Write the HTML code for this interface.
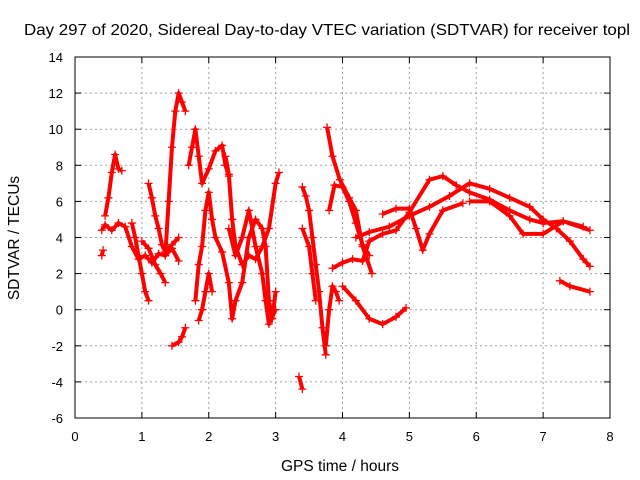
<!DOCTYPE html>
<html><head><meta charset="utf-8"><style>
body{margin:0;background:#fff}
svg{display:block;font-family:"Liberation Sans",sans-serif}
</style></head><body>
<svg id="c" width="640" height="480">
<text x="24" y="35" font-size="16" textLength="606" lengthAdjust="spacingAndGlyphs">Day 297 of 2020, Sidereal Day-to-day VTEC variation (SDTVAR) for receiver topl</text>
<text x="340" y="471" font-size="15.5" text-anchor="middle">GPS time / hours</text>
<text transform="translate(19,238) rotate(-90)" font-size="15.5" text-anchor="middle">SDTVAR / TECUs</text>
<g id="grid"></g><g id="marks"></g>
<rect x="75" y="57" width="535" height="361" fill="none" stroke="#000" stroke-width="1"/>
</svg>
<script>
const xTicks=[0,1,2,3,4,5,6,7,8];
const yTicks=[-6,-4,-2,0,2,4,6,8,10,12,14];
const tracks=[
[[0.4,4.4],[0.45,4.7],[0.55,4.4],[0.65,4.8],[0.75,4.6],[0.85,3.5],[0.95,2.8],[1.05,3.0],[1.15,2.6],[1.25,3.1],[1.35,3.0],[1.45,3.4],[1.55,2.7]],
[[0.45,5.2],[0.5,6.2],[0.55,7.6],[0.6,8.6],[0.65,7.8],[0.7,7.7]],
[[0.4,3.0],[0.42,3.3]],
[[0.85,4.8],[0.9,4.0],[0.95,3.0],[1.0,2.0],[1.05,1.0],[1.1,0.5]],
[[1.0,3.8],[1.1,3.4],[1.2,2.5],[1.28,2.0],[1.35,1.5]],
[[1.1,7.0],[1.15,6.2],[1.2,5.2],[1.25,4.5],[1.3,3.6],[1.35,3.2],[1.45,3.6],[1.55,4.0]],
[[1.35,3.0],[1.4,6.0],[1.45,9.0],[1.5,11.0],[1.55,12.0],[1.6,11.5],[1.65,11.0]],
[[1.45,-2.0],[1.55,-1.8],[1.6,-1.5],[1.65,-1.0]],
[[1.7,8.0],[1.75,9.0],[1.8,10.0],[1.85,8.5],[1.9,7.0],[2.0,7.8],[2.1,8.8],[2.2,9.1],[2.25,8.0],[2.3,7.4]],
[[1.8,0.5],[1.85,2.5],[1.9,3.5],[1.95,5.5],[2.0,6.5],[2.05,5.0],[2.1,4.0],[2.2,3.2],[2.3,1.5],[2.35,-0.5],[2.4,0.5],[2.5,1.5],[2.6,4.0],[2.7,5.0],[2.8,4.5],[2.85,3.5],[2.9,0.5],[2.95,-0.5],[3.0,1.0]],
[[2.25,8.5],[2.3,7.5],[2.35,5.0],[2.4,3.5],[2.5,2.5],[2.6,3.0],[2.7,2.8],[2.8,3.5],[2.9,4.5],[3.0,7.0],[3.05,7.6]],
[[2.3,4.5],[2.4,3.0],[2.5,4.0],[2.6,5.5],[2.7,3.5],[2.8,2.0],[2.85,0.5],[2.9,-0.8],[3.0,0]],
[[1.85,-0.6],[1.9,0],[1.95,1.0],[2.0,2.0],[2.05,1.0]],
[[3.4,6.8],[3.45,6.3],[3.5,5.5],[3.55,4.0],[3.6,2.5],[3.65,1.0],[3.7,-1.0],[3.75,-2.5]],
[[3.35,-3.7],[3.4,-4.4]],
[[3.4,4.5],[3.5,3.5],[3.55,2.0],[3.6,0.5]],
[[3.75,-2.0],[3.8,0],[3.85,1.3],[3.9,1.0],[3.95,0.5]],
[[3.77,10.1],[3.85,8.5],[3.96,7.2],[4.1,6.2],[4.2,5.5],[4.3,3.5],[4.44,2.0]],
[[3.8,5.5],[3.88,6.9],[4.0,6.8],[4.1,6.0],[4.2,4.8],[4.3,3.6],[4.4,3.0]],
[[3.85,2.3],[4.0,2.6],[4.15,2.8],[4.3,2.7],[4.4,3.8],[4.6,4.2],[4.8,4.4],[5.0,5.4],[5.3,7.2],[5.5,7.4],[5.7,6.9],[5.9,6.5],[6.2,6.1],[6.5,5.5],[6.8,5.0],[7.0,4.8],[7.3,4.9],[7.7,4.4]],
[[4.0,1.3],[4.2,0.5],[4.4,-0.5],[4.6,-0.8],[4.8,-0.4],[4.95,0.1]],
[[4.2,4.0],[4.4,4.3],[4.7,4.6],[5.0,5.2],[5.3,5.7],[5.6,6.3],[5.9,7.0],[6.2,6.7],[6.5,6.2],[6.8,5.7],[7.0,5.0],[7.2,4.5],[7.4,3.8],[7.6,2.8],[7.7,2.4]],
[[4.6,5.3],[4.8,5.6],[5.0,5.6],[5.1,4.5],[5.2,3.3],[5.3,4.2],[5.5,5.5],[5.8,5.9]],
[[5.9,6.0],[6.2,6.0],[6.5,5.2],[6.7,4.2],[7.0,4.2],[7.3,4.9],[7.6,4.6]],
[[7.25,1.6],[7.4,1.3],[7.7,1.0]]
];
const X=h=>75+h*535/8, Y=v=>418-(v+6)*361/20;
const NS="http://www.w3.org/2000/svg";
const grid=document.getElementById('grid'), marks=document.getElementById('marks');
function mk(tag,attrs,parent){const e=document.createElementNS(NS,tag);for(const k in attrs)e.setAttribute(k,attrs[k]);parent.appendChild(e);return e;}
xTicks.forEach(t=>{
  if(t>0&&t<8){const l=mk('line',{x1:X(t),x2:X(t),y1:57,y2:418,stroke:'#a0a0a0','stroke-dasharray':'2,3'},grid);
  
  }
  mk('line',{x1:X(t),x2:X(t),y1:418,y2:412,stroke:'#000'},grid);
  mk('line',{x1:X(t),x2:X(t),y1:57,y2:63,stroke:'#000'},grid);
  const tx=mk('text',{x:X(t),y:441,'font-size':13,'text-anchor':'middle'},grid);tx.textContent=t;
  
  
});
yTicks.forEach(t=>{
  if(t>-6&&t<14){const l=mk('line',{x1:75,x2:610,y1:Y(t),y2:Y(t),stroke:'#a0a0a0','stroke-dasharray':'2,3'},grid);
  
  }
  mk('line',{x1:75,x2:81,y1:Y(t),y2:Y(t),stroke:'#000'},grid);
  mk('line',{x1:610,x2:604,y1:Y(t),y2:Y(t),stroke:'#000'},grid);
  const tx=mk('text',{x:63,y:Y(t)+5,'font-size':13,'text-anchor':'end'},grid);tx.textContent=t;
  
  
});
tracks.forEach(tr=>{
  const pl=mk('polyline',{points:tr.map(p=>X(p[0])+','+Y(p[1])).join(' '),fill:'none',stroke:'#f00','stroke-width':4,'stroke-linejoin':'round'},marks);
  
  
  tr.forEach(p=>{
    const x=X(p[0]),y=Y(p[1]);
    const m=mk('path',{d:`M${x-4},${y}H${x+4}M${x},${y-4}V${y+4}`,stroke:'#f00','stroke-width':1.3},marks);
    
    
  });
});
</script>
</body></html>
